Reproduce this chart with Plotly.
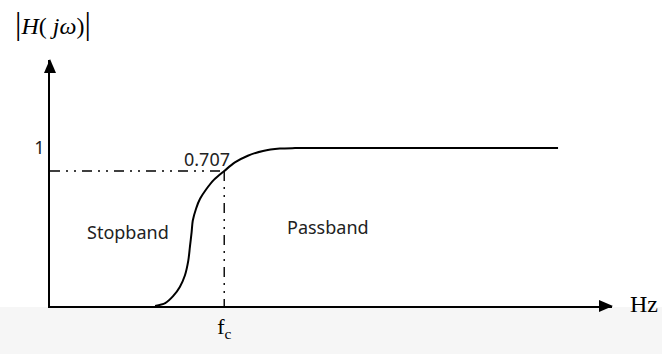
import numpy as np
import plotly.graph_objects as go

# Low-pass magnitude response |H(jw)| (schematic), log-scaled magnitude axis
freq = [1.87, 2.05, 2.19, 2.31, 2.40, 2.46, 2.49, 2.52, 2.54, 2.60,
        2.67, 2.78, 2.92, 3.10, 3.29, 3.52, 3.79, 4.09, 4.36, 9.04]
mag = [0.0922, 0.0963, 0.107, 0.123, 0.146, 0.182, 0.226, 0.281, 0.334, 0.402,
       0.465, 0.537, 0.621, 0.707, 0.805, 0.891, 0.958, 0.993, 1.0, 1.0]

FC = 3.10            # cutoff frequency
CUT_MAG = 0.707      # half-power magnitude
UNIT_MAG = 1.0       # passband gain
Y_RANGE = [0.0922, 3.78]
X_RANGE = [0, 10]

SANS = "Noto Sans"
SERIF = "Liberation Serif"
DASH = "10px,6px,2px,6px,2px,6px"

fig = go.Figure()

# half-power guide lines
fig.add_trace(go.Scatter(x=[X_RANGE[0], FC], y=[CUT_MAG, CUT_MAG], mode="lines",
                         line=dict(color="black", width=1.4, dash=DASH),
                         hoverinfo="skip", showlegend=False))
fig.add_trace(go.Scatter(x=[FC, FC], y=[CUT_MAG, Y_RANGE[0]], mode="lines",
                         line=dict(color="black", width=1.4, dash=DASH),
                         hoverinfo="skip", showlegend=False))

# response curve
fig.add_trace(go.Scatter(x=freq, y=mag, mode="lines",
                         line=dict(color="black", width=2, shape="spline", smoothing=0.8),
                         showlegend=False))

# light band under the frequency axis
fig.add_shape(type="rect", xref="paper", yref="paper", x0=-0.2, x1=1.2,
              y0=-0.2, y1=-0.004, fillcolor="#f6f6f6", line_width=0, layer="below")

# arrowheads at the ends of both axes
fig.add_shape(type="path", xref="paper", yref="paper",
              xsizemode="pixel", ysizemode="pixel", xanchor=1, yanchor=0,
              path="M 1,0 L -13,6 L -13,-6 Z", fillcolor="black", line_width=0)
fig.add_shape(type="path", xref="paper", yref="paper",
              xsizemode="pixel", ysizemode="pixel", xanchor=0, yanchor=1,
              path="M 0,1 L -6,-13 L 6,-13 Z", fillcolor="black", line_width=0)

annotations = [
    dict(x=FC, y=np.log10(CUT_MAG), text="0.707", showarrow=False,
         xanchor="right", yanchor="bottom", xshift=8, yshift=-2,
         font=dict(family=SANS, size=18, color="#222")),
    dict(x=1.39, y=np.log10(0.2805), text="Stopband", showarrow=False,
         font=dict(family=SANS, size=18, color="#222")),
    dict(x=4.95, y=np.log10(0.306), text="Passband", showarrow=False,
         font=dict(family=SANS, size=18, color="#222")),
    dict(xref="paper", yref="paper", x=1, y=0, xanchor="left", yanchor="middle",
         xshift=16, yshift=2, text="Hz", showarrow=False,
         font=dict(family=SERIF, size=24, color="black")),
    dict(xref="paper", yref="paper", x=0, y=1, xanchor="left", yanchor="middle",
         xshift=-37, yshift=37,
         text="<span style='font-size:32px'>|</span><i>H</i>( <i>jω</i>)<span style='font-size:32px'>|</span>",
         showarrow=False, font=dict(family=SERIF, size=24, color="black")),
]

fig.update_layout(
    width=662, height=354,
    margin=dict(l=50, r=50, t=60, b=37),
    paper_bgcolor="white", plot_bgcolor="white",
    annotations=annotations,
    xaxis=dict(range=X_RANGE, showgrid=False, zeroline=False, showline=True,
               linecolor="black", linewidth=1.8, ticks="",
               tickvals=[FC], ticktext=["f<sub>c</sub>"],
               tickfont=dict(family=SERIF, size=22, color="black")),
    yaxis=dict(type="log", range=[np.log10(Y_RANGE[0]), np.log10(Y_RANGE[1])],
               showgrid=False, zeroline=False, showline=True,
               linecolor="black", linewidth=1.8, ticks="",
               tickvals=[UNIT_MAG], ticktext=["1"],
               tickfont=dict(family=SANS, size=18, color="#222")),
)

fig.write_html("out.html")
